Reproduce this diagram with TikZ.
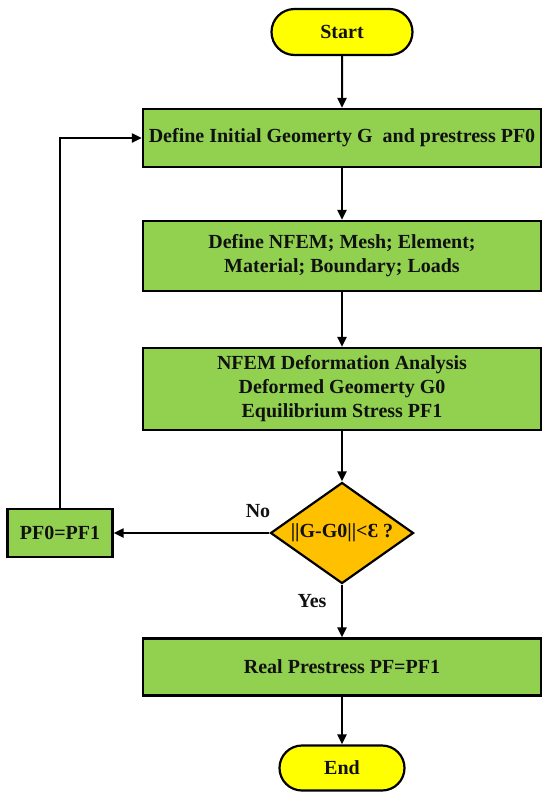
\documentclass[tikz,border=0pt]{standalone}
\usepackage{fontspec}
\setmainfont{Liberation Serif}
\usetikzlibrary{shapes.geometric,shapes.misc,arrows.meta}
\definecolor{boxgreen}{HTML}{92D050}
\definecolor{termyellow}{HTML}{FFFF00}
\definecolor{decorange}{HTML}{FFC000}
\definecolor{txt}{HTML}{111111}
\begin{document}
\begin{tikzpicture}[x=1pt,y=-1pt,
  every node/.style={font=\fontsize{20}{24}\selectfont\bfseries, text=txt},
  procbox/.style={draw=black, line width=2.2pt, fill=boxgreen, rectangle, align=center, inner sep=1pt, minimum width=398pt},
  termbox/.style={draw=black, line width=2.2pt, fill=termyellow, rounded rectangle, inner sep=1pt, minimum height=46pt},
  decbox/.style={draw=black, line width=2.2pt, fill=decorange, diamond, aspect=1.4, inner sep=0pt, minimum width=143pt, minimum height=101pt},
  conn/.style={line width=2pt, -{Triangle[length=10pt,width=9pt]}},
  lbl/.style={inner sep=0pt}
]
\useasboundingbox (0,0) rectangle (550,801);
\node[termbox, minimum width=143pt] (start) at (342,32) {Start};
\node[procbox, minimum height=58pt] (b1) at (342,138) {Define Initial Geomerty G\ \ and prestress PF0};
\node[procbox, minimum height=70pt] (b2) at (342,256) {Define NFEM; Mesh; Element;\\Material; Boundary; Loads};
\node[procbox, minimum height=82pt] (b3) at (342,389) {NFEM Deformation Analysis\\Deformed Geomerty G0\\Equilibrium Stress PF1};
\node[decbox] (dec) at (342,533) {||G-G0||<Ɛ ?};
\node[procbox, minimum width=105pt, minimum height=48pt] (pf) at (60,533) {PF0=PF1};
\node[procbox, minimum height=57pt] (real) at (342,667) {Real Prestress PF=PF1};
\node[termbox, minimum width=127pt, minimum height=45pt] (end) at (342,768) {End};
\node[lbl] (no) at (258,511) {No};
\node[lbl] (yes) at (312,601) {Yes};
\coordinate (corner) at (60,138);
\draw[conn] (start) -- (b1);
\draw[conn] (b1) -- (b2);
\draw[conn] (b2) -- (b3);
\draw[conn] (b3) -- (dec);
\draw[conn] (dec) -- (pf);
\draw[conn] (pf.north) -- (corner) -- (b1.west);
\draw[conn] (dec) -- (real);
\draw[conn] (real) -- (end);
\end{tikzpicture}
\end{document}
